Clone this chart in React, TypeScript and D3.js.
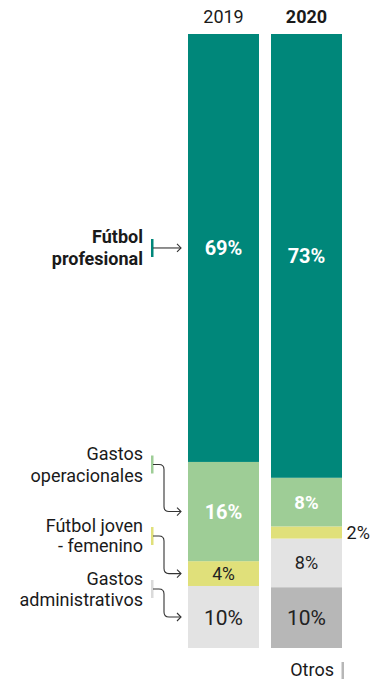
import React from "react";
import * as d3 from "d3";

const years = ["2019", "2020"];
const keys = ["profesional", "operacionales", "joven", "administrativos", "otros"];
const profesional = [69, 73];
const operacionales = [16, 8];
const joven = [4, 2];
const administrativos = [10, 8];
const otros = [0, 10];
const leftLabels = [
  ["Fútbol", "profesional"],
  ["Gastos", "operacionales"],
  ["Fútbol joven", "- femenino"],
  ["Gastos", "administrativos"],
];
const otrosLabel = "Otros";

const W = 383;
const H = 681;
const FONT = "Roboto, 'Noto Sans', sans-serif";

const colors: Record<string, string> = {
  profesional: "#00877A",
  operacionales: "#9ECD96",
  joven: "#E0E07A",
  administrativos: "#E3E3E3",
  otros: "#B7B7B7",
};

export default function App() {
  const series: Record<string, number[]> = { profesional, operacionales, joven, administrativos, otros };
  const rows = years.map((y, i) => {
    const r: any = { year: y };
    keys.forEach((k) => (r[k] = series[k][i]));
    return r;
  });
  const stackKeys = [...keys].reverse(); // bottom first
  const stacked = d3.stack<any>().keys(stackKeys).offset(d3.stackOffsetExpand)(rows);

  const x = d3.scaleBand<string>().domain(years).range([188, 342]).paddingInner(12 / 83).paddingOuter(0);
  const y = d3.scaleLinear().domain([0, 1]).range([648, 34]);

  const segs: any[] = [];
  stacked.forEach((s) => {
    s.forEach((d, i) => {
      const v = series[s.key][i];
      if (v <= 0) return;
      segs.push({ key: s.key, year: years[i], i, v, y0: y(d[1]), y1: y(d[0]) });
    });
  });

  const labelStyle = (key: string, year: string, v: number) => {
    if (key === "profesional" || key === "operacionales")
      return { fill: "#fff", weight: 700, size: v < 10 ? 18.5 : 20 };
    if (key === "joven") return { fill: "#222", weight: 400, size: 17.5 };
    if (key === "administrativos" && year === "2020") return { fill: "#222", weight: 400, size: 18 };
    return { fill: "#222", weight: 400, size: 21 };
  };

  const seg2019 = (k: string) => segs.find((s) => s.key === k && s.year === "2019");
  const annKeys = ["profesional", "operacionales", "joven", "administrativos"];
  const tickYs = [248, 464.5, 536, 589];
  const lineGaps = [22, 22, 20.5, 21];

  const tickX = 151;
  const bendX = 164;
  const arrowX = 181;
  const r = 5;

  return (
    <div style={{ position: "absolute", left: 0, top: 0 }}>
      <svg width={W} height={H} style={{ display: "block" }} fontFamily={FONT}>
        {years.map((yr, i) => (
          <text
            key={yr}
            x={x(yr)! + x.bandwidth() / 2}
            y={22.5}
            textAnchor="middle"
            fontSize={18}
            fontWeight={i === 1 ? 700 : 400}
            fill="#1a1a1a"
          >
            {yr}
          </text>
        ))}
        {segs.map((s) => (
          <rect
            key={s.key + s.year}
            x={x(s.year)}
            y={s.y0}
            width={x.bandwidth()}
            height={s.y1 - s.y0}
            fill={colors[s.key]}
          />
        ))}
        {segs.map((s) => {
          const st = labelStyle(s.key, s.year, s.v);
          const cx = x(s.year)! + x.bandwidth() / 2;
          const cy = (s.y0 + s.y1) / 2;
          if (s.key === "joven" && s.year === "2020") {
            return (
              <text key={"l" + s.key + s.year} x={x(s.year)! + x.bandwidth() + 4.5} y={cy} dy="0.36em" fontSize={18} fill="#1a1a1a">
                {s.v}%
              </text>
            );
          }
          return (
            <text
              key={"l" + s.key + s.year}
              x={cx}
              y={cy}
              dy="0.36em"
              textAnchor="middle"
              fontSize={st.size}
              fontWeight={st.weight}
              fill={st.fill}
            >
              {s.v}%
            </text>
          );
        })}
        {annKeys.map((k, idx) => {
          const seg = seg2019(k);
          const ty = tickYs[idx];
          const target = (seg.y0 + seg.y1) / 2;
          const gap = lineGaps[idx];
          const lines = leftLabels[idx];
          const bold = idx === 0;
          let path: string;
          if (Math.abs(target - ty) < 3) {
            path = `M${tickX + 2},${target} H${arrowX}`;
          } else {
            path = `M${tickX + 2},${ty} H${bendX - r} Q${bendX},${ty} ${bendX},${ty + r} V${target - r} Q${bendX},${target} ${bendX + r},${target} H${arrowX}`;
          }
          const ay = target;
          return (
            <g key={k}>
              <text
                x={143}
                y={ty - gap / 2 + 6}
                textAnchor="end"
                fontSize={18}
                fontWeight={bold ? 700 : 400}
                fill="#1a1a1a"
              >
                <tspan x={143}>{lines[0]}</tspan>
                <tspan x={143} dy={gap}>
                  {lines[1]}
                </tspan>
              </text>
              <rect x={tickX} y={ty - 9} width={2.5} height={18} fill={colors[k] === "#E3E3E3" ? "#DADADA" : colors[k]} />
              <path d={path} fill="none" stroke="#333" strokeWidth={1.1} />
              <path
                d={`M${arrowX - 4},${ay - 4} L${arrowX},${ay} L${arrowX - 4},${ay + 4}`}
                fill="none"
                stroke="#333"
                strokeWidth={1.1}
              />
            </g>
          );
        })}
        <text x={334} y={676} textAnchor="end" fontSize={18} fill="#1a1a1a">
          {otrosLabel}
        </text>
        <rect x={341.5} y={662} width={2.5} height={17} fill={colors.otros} />
      </svg>
    </div>
  );
}
